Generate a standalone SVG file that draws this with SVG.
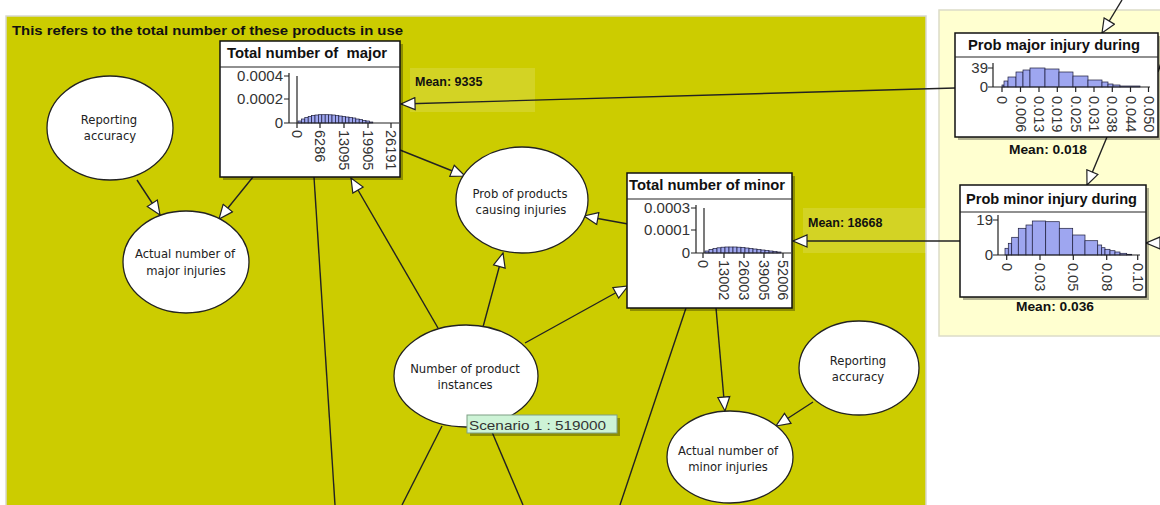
<svg xmlns="http://www.w3.org/2000/svg" width="1160" height="505" viewBox="0 0 1160 505">
<style>
.ttl{font-family:"Liberation Sans",Arial,sans-serif;font-weight:bold;font-size:14px;fill:#111}
.mean{font-family:"Liberation Sans",Arial,sans-serif;font-weight:bold;font-size:12.5px;fill:#111}
.tick{font-family:"Liberation Sans",Arial,sans-serif;font-size:14.5px;fill:#333}
.ytk{font-family:"Liberation Sans",Arial,sans-serif;font-size:15px;fill:#333;text-anchor:end}
.el{font-family:"DejaVu Sans",Verdana,sans-serif;font-size:11.6px;fill:#222;text-anchor:middle}
.box{fill:#fff;stroke:#111;stroke-width:1.5}
.shadow{fill:#000;opacity:0.3}
.ell{fill:#fff;stroke:#222;stroke-width:1.3}
.ax{stroke:#222;stroke-width:1.2;fill:none}
.bar{fill:#9ea6f0;stroke:#1c1c3a;stroke-width:0.7}
.con{stroke:#222;stroke-width:1.4;fill:none}
.arr{marker-end:url(#ah)}
.mbg{fill:#fff;opacity:0.14}
</style>
<defs>
<marker id="ah" viewBox="0 0 16 14" refX="15" refY="7" markerWidth="16" markerHeight="14" markerUnits="userSpaceOnUse" orient="auto">
<path d="M1,1 L15,7 L1,13 z" fill="#fff" stroke="#222" stroke-width="1.2"/>
</marker>
</defs>
<rect x="0" y="0" width="1160" height="505" fill="#fff"/>
<rect x="6" y="16" width="920" height="495" fill="#cccc00" stroke="#d8d8d0" stroke-width="1.5"/>
<rect x="939" y="10" width="225" height="326" fill="#ffffd0" stroke="#dcdcc8" stroke-width="1.5"/>
<text x="12" y="35" class="ttl" style="font-size:13px" textLength="391" lengthAdjust="spacingAndGlyphs">This refers to the total number of these products in use</text>
<rect class="mbg" x="410" y="68" width="125" height="44"/>
<rect class="mbg" x="803" y="208" width="123" height="45"/>

<g id="connectors">
<line class="con arr" x1="137" y1="180" x2="160" y2="215"/>
<line class="con arr" x1="253" y1="177" x2="219" y2="219"/>
<line class="con arr" x1="400" y1="150" x2="465" y2="176"/>
<line class="con arr" x1="628" y1="224" x2="584" y2="216"/>
<line class="con arr" x1="483" y1="327" x2="503" y2="253"/>
<line class="con arr" x1="438" y1="328" x2="351" y2="178"/>
<line class="con arr" x1="525" y1="343" x2="628" y2="286"/>
<line class="con arr" x1="955" y1="88" x2="401" y2="104"/>
<line class="con arr" x1="960" y1="241" x2="793" y2="241"/>
<line class="con arr" x1="716" y1="308" x2="725" y2="411"/>
<line class="con arr" x1="813" y1="402" x2="776" y2="426"/>
<line class="con" x1="314" y1="177" x2="335" y2="505"/>
<line class="con" x1="442" y1="426" x2="402" y2="505"/>
<line class="con" x1="492" y1="432" x2="523" y2="505"/>
<line class="con" x1="686" y1="308" x2="620" y2="505"/>
<line class="con arr" x1="1122" y1="0" x2="1102" y2="33"/>
<line class="con arr" x1="1107" y1="137" x2="1087" y2="185"/>
<line class="con arr" x1="1162" y1="243" x2="1146" y2="243"/>
<line class="con" x1="1158" y1="72" x2="1162" y2="60"/>
</g>

<g id="reporting-accuracy-left">
<ellipse class="ell" cx="110" cy="128" rx="63" ry="52"/>
<text class="el" x="109" y="124">Reporting</text>
<text class="el" x="110" y="140">accuracy</text>
</g>

<g id="actual-major">
<ellipse class="ell" cx="186" cy="262" rx="63" ry="51"/>
<text class="el" x="185" y="258">Actual number of</text>
<text class="el" x="186" y="275">major injuries</text>
</g>

<g id="prob-products">
<ellipse class="ell" cx="522" cy="200" rx="66" ry="53"/>
<text class="el" x="520" y="198">Prob of products</text>
<text class="el" x="521" y="214">causing injuries</text>
</g>

<g id="number-instances">
<ellipse class="ell" cx="466" cy="376" rx="72" ry="51"/>
<text class="el" x="465" y="373">Number of product</text>
<text class="el" x="465" y="389">instances</text>
<rect x="470" y="418" width="150" height="18" fill="#000" opacity="0.3"/>
<rect x="467" y="415" width="150" height="18" fill="#cdf3d6" stroke="#7f9f84" stroke-width="1"/>
<text x="469" y="430" style="font-family:'Liberation Sans',Arial,sans-serif;font-size:13px;fill:#333" textLength="137" lengthAdjust="spacingAndGlyphs">Scenario 1 : 519000</text>
</g>

<g id="reporting-accuracy-right">
<ellipse class="ell" cx="859" cy="368" rx="60" ry="47"/>
<text class="el" x="858" y="365">Reporting</text>
<text class="el" x="858" y="381">accuracy</text>
</g>

<g id="actual-minor">
<ellipse class="ell" cx="730" cy="457" rx="63" ry="46"/>
<text class="el" x="728" y="455">Actual number of</text>
<text class="el" x="728" y="471">minor injuries</text>
</g>

<g id="total-major">
<rect class="shadow" x="223" y="44" width="180" height="136"/>
<rect class="box" x="220" y="41" width="180" height="136"/>
<line class="ax" x1="220" y1="67" x2="400" y2="67"/>
<text class="ttl" x="227" y="58" xml:space="preserve" textLength="160" lengthAdjust="spacingAndGlyphs">Total number of  major</text>
<g>
<rect class="bar" x="298" y="121" width="3.4" height="2"/>
<rect class="bar" x="301.4" y="119" width="3.4" height="4"/>
<rect class="bar" x="304.8" y="117.5" width="3.4" height="5.5"/>
<rect class="bar" x="308.2" y="116.5" width="3.4" height="6.5"/>
<rect class="bar" x="311.6" y="115.5" width="3.4" height="7.5"/>
<rect class="bar" x="315" y="115" width="3.4" height="8"/>
<rect class="bar" x="318.4" y="114.7" width="3.4" height="8.3"/>
<rect class="bar" x="321.8" y="114.7" width="3.4" height="8.3"/>
<rect class="bar" x="325.2" y="114.7" width="3.4" height="8.3"/>
<rect class="bar" x="328.6" y="114.8" width="3.4" height="8.2"/>
<rect class="bar" x="332" y="115" width="3.4" height="8"/>
<rect class="bar" x="335.4" y="115.5" width="3.4" height="7.5"/>
<rect class="bar" x="338.8" y="116" width="3.4" height="7"/>
<rect class="bar" x="342.2" y="116.5" width="3.4" height="6.5"/>
<rect class="bar" x="345.6" y="117" width="3.4" height="6"/>
<rect class="bar" x="349" y="117.5" width="3.4" height="5.5"/>
<rect class="bar" x="352.4" y="118" width="3.4" height="5"/>
<rect class="bar" x="355.8" y="119" width="3.4" height="4"/>
<rect class="bar" x="359.2" y="119.5" width="3.4" height="3.5"/>
<rect class="bar" x="362.6" y="120.5" width="3.4" height="2.5"/>
<rect class="bar" x="366" y="121" width="3.4" height="2"/>
<rect class="bar" x="369.4" y="122" width="3.4" height="1"/>
</g>
<line class="ax" x1="297" y1="76" x2="297" y2="123"/>
<path class="ax" d="M289,73 V123 H399 M284,76 H289 M284,99 H289 M284,123 H289 M297,123 V128 M320,123 V128 M344,123 V128 M368,123 V128 M391,123 V128"/>
<text class="ytk" x="283" y="81">0.0004</text>
<text class="ytk" x="283" y="104">0.0002</text>
<text class="ytk" x="283" y="128">0</text>
<text class="tick" transform="translate(292,130) rotate(90)">0</text>
<text class="tick" transform="translate(315,130) rotate(90)">6286</text>
<text class="tick" transform="translate(339,130) rotate(90)">13095</text>
<text class="tick" transform="translate(363,130) rotate(90)">19905</text>
<text class="tick" transform="translate(386,130) rotate(90)">26191</text>
<text class="mean" x="415" y="86">Mean: 9335</text>
</g>

<g id="total-minor">
<rect class="shadow" x="630" y="176" width="165" height="135"/>
<rect class="box" x="627" y="173" width="165" height="135"/>
<line class="ax" x1="627" y1="199" x2="792" y2="199"/>
<text class="ttl" x="629" y="190" textLength="156" lengthAdjust="spacingAndGlyphs">Total number of minor</text>
<g>
<rect class="bar" x="705" y="251" width="4" height="2"/>
<rect class="bar" x="709" y="249.5" width="4" height="3.5"/>
<rect class="bar" x="713" y="248.5" width="4" height="4.5"/>
<rect class="bar" x="717" y="247.8" width="4" height="5.2"/>
<rect class="bar" x="721" y="247.2" width="4" height="5.8"/>
<rect class="bar" x="725" y="247" width="4" height="6"/>
<rect class="bar" x="729" y="247" width="4" height="6"/>
<rect class="bar" x="733" y="247" width="4" height="6"/>
<rect class="bar" x="737" y="247.2" width="4" height="5.8"/>
<rect class="bar" x="741" y="247.5" width="4" height="5.5"/>
<rect class="bar" x="745" y="248" width="4" height="5"/>
<rect class="bar" x="749" y="248.5" width="4" height="4.5"/>
<rect class="bar" x="753" y="249" width="4" height="4"/>
<rect class="bar" x="757" y="249.5" width="4" height="3.5"/>
<rect class="bar" x="761" y="250" width="4" height="3"/>
<rect class="bar" x="765" y="250.5" width="4" height="2.5"/>
<rect class="bar" x="769" y="251" width="4" height="2"/>
<rect class="bar" x="773" y="251.5" width="4" height="1.5"/>
<rect class="bar" x="777" y="252" width="4" height="1"/>
</g>
<line class="ax" x1="704" y1="208" x2="704" y2="253"/>
<path class="ax" d="M696,205 V253 H791 M691,208 H696 M691,230 H696 M691,253 H696 M703,253 V258 M724,253 V258 M744,253 V258 M764,253 V258 M783,253 V258"/>
<text class="ytk" x="690" y="213">0.0003</text>
<text class="ytk" x="690" y="235">0.0001</text>
<text class="ytk" x="690" y="258">0</text>
<text class="tick" transform="translate(698,260) rotate(90)">0</text>
<text class="tick" transform="translate(719,260) rotate(90)">13002</text>
<text class="tick" transform="translate(739,260) rotate(90)">26003</text>
<text class="tick" transform="translate(759,260) rotate(90)">39005</text>
<text class="tick" transform="translate(778,260) rotate(90)">52006</text>
<text class="mean" x="808" y="227">Mean: 18668</text>
</g>

<g id="prob-major">
<rect class="shadow" x="958" y="36" width="203" height="104" opacity="0.15"/>
<rect class="box" x="955" y="33" width="203" height="104"/>
<line class="ax" x1="955" y1="57" x2="1158" y2="57"/>
<text class="ttl" x="968" y="50" textLength="172" lengthAdjust="spacingAndGlyphs">Prob major injury during</text>
<g>
<rect class="bar" x="1002" y="85" width="2" height="2"/>
<rect class="bar" x="1004" y="81" width="4" height="6"/>
<rect class="bar" x="1008" y="77" width="8" height="10"/>
<rect class="bar" x="1016" y="72" width="7" height="15"/>
<rect class="bar" x="1023" y="70" width="7" height="17"/>
<rect class="bar" x="1030" y="68" width="15" height="19"/>
<rect class="bar" x="1045" y="69" width="14" height="18"/>
<rect class="bar" x="1059" y="72" width="14" height="15"/>
<rect class="bar" x="1073" y="76" width="15" height="11"/>
<rect class="bar" x="1088" y="80" width="14" height="7"/>
<rect class="bar" x="1102" y="82" width="6" height="5"/>
<rect class="bar" x="1108" y="84" width="5" height="3"/>
<rect class="bar" x="1113" y="85" width="7" height="2"/>
<rect class="bar" x="1120" y="86" width="20" height="1"/>
</g>
<path class="ax" d="M993,63 V87 H1150 M988,68 H993 M988,87 H993 M1002,87 V92 M1020.5,87 V92 M1039,87 V92 M1057.3,87 V92 M1075.7,87 V92 M1094,87 V92 M1112.3,87 V92 M1130.5,87 V92 M1148.5,87 V92"/>
<text class="ytk" x="988" y="73">39</text>
<text class="ytk" x="988" y="92">0</text>
<text class="tick" transform="translate(997,96) rotate(90)">0</text>
<text class="tick" transform="translate(1015.5,96) rotate(90)">0.006</text>
<text class="tick" transform="translate(1034,96) rotate(90)">0.013</text>
<text class="tick" transform="translate(1052.3,96) rotate(90)">0.019</text>
<text class="tick" transform="translate(1070.7,96) rotate(90)">0.025</text>
<text class="tick" transform="translate(1089,96) rotate(90)">0.031</text>
<text class="tick" transform="translate(1107.3,96) rotate(90)">0.038</text>
<text class="tick" transform="translate(1125.5,96) rotate(90)">0.044</text>
<text class="tick" transform="translate(1143.5,96) rotate(90)">0.050</text>
<text class="mean" x="1009" y="154" textLength="78" lengthAdjust="spacingAndGlyphs">Mean: 0.018</text>
</g>

<g id="prob-minor">
<rect class="shadow" x="963" y="188" width="186" height="112" opacity="0.15"/>
<rect class="box" x="960" y="185" width="186" height="112"/>
<line class="ax" x1="960" y1="212" x2="1146" y2="212"/>
<text class="ttl" x="966" y="204" textLength="171" lengthAdjust="spacingAndGlyphs">Prob minor injury during</text>
<g>
<rect class="bar" x="1005" y="248.3" width="3.3" height="6.7"/>
<rect class="bar" x="1008.3" y="243.3" width="3.4" height="11.7"/>
<rect class="bar" x="1011.7" y="237.3" width="6.6" height="17.7"/>
<rect class="bar" x="1018.3" y="228.3" width="7.7" height="26.7"/>
<rect class="bar" x="1026" y="225" width="6.3" height="30"/>
<rect class="bar" x="1032.3" y="221" width="13.4" height="34"/>
<rect class="bar" x="1045.7" y="221.7" width="13.6" height="33.3"/>
<rect class="bar" x="1059.3" y="228.3" width="13.4" height="26.7"/>
<rect class="bar" x="1072.7" y="235" width="12.3" height="20"/>
<rect class="bar" x="1085" y="240.7" width="12.7" height="14.3"/>
<rect class="bar" x="1097.7" y="245" width="4" height="10"/>
<rect class="bar" x="1101.7" y="247.7" width="3.3" height="7.3"/>
<rect class="bar" x="1105" y="249.3" width="5" height="5.7"/>
<rect class="bar" x="1110" y="250.7" width="5" height="4.3"/>
<rect class="bar" x="1115" y="252" width="5" height="3"/>
<rect class="bar" x="1120" y="253.3" width="6.7" height="1.7"/>
<rect class="bar" x="1126.7" y="254.3" width="5" height="0.7"/>
</g>
<path class="ax" d="M998,215 V255 H1140 M993,220 H998 M993,255 H998 M1006.7,255 V260 M1040,255 V260 M1073.3,255 V260 M1106.7,255 V260 M1137.7,255 V260"/>
<text class="ytk" x="993" y="225">19</text>
<text class="ytk" x="993" y="260">0</text>
<text class="tick" transform="translate(1002,263) rotate(90)">0</text>
<text class="tick" transform="translate(1035,263) rotate(90)">0.03</text>
<text class="tick" transform="translate(1068.3,263) rotate(90)">0.05</text>
<text class="tick" transform="translate(1101.7,263) rotate(90)">0.08</text>
<text class="tick" transform="translate(1132.7,263) rotate(90)">0.10</text>
<text class="mean" x="1016" y="311" textLength="78" lengthAdjust="spacingAndGlyphs">Mean: 0.036</text>
</g>
</svg>
